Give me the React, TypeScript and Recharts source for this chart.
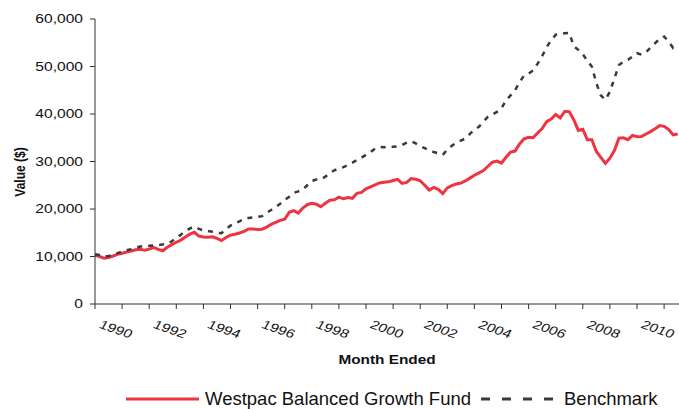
import React from 'react';
import { Label, Line, LineChart, XAxis, YAxis } from 'recharts';

// month offsets from the first observation (every second month)
const MONTHS = Array.from({ length: 130 }, (_, i) => i * 2);

const FUND = [
    10250, 10000, 9650, 9800, 10100, 10450, 10700, 10950, 11150, 11400,
    11500, 11300, 11550, 11900, 11500, 11200, 11950, 12500, 13000, 13450,
    14100, 14700, 15100, 14300, 14100, 14050, 14150, 13800, 13340, 14000,
    14500, 14700, 14950, 15300, 15800, 15800, 15700, 15750, 16200, 16750,
    17200, 17600, 17850, 19300, 19650, 19150, 20200, 20900, 21200, 21000,
    20500, 21200, 21850, 21950, 22500, 22150, 22400, 22250, 23300, 23500,
    24250, 24650, 25100, 25480, 25650, 25720, 26000, 26250, 25400, 25600,
    26400, 26250, 25950, 25000, 24000, 24550, 24150, 23250, 24450, 24900,
    25280, 25450, 25900, 26500, 27100, 27600, 28100, 29000, 29850, 30100,
    29650, 30900, 32000, 32200, 33700, 34800, 35100, 35000, 36000, 36950,
    38400, 38950, 39900, 39200, 40530, 40500, 38800, 36550, 36800, 34600,
    34600, 32100, 30850, 29600, 30700, 32300, 34900, 35000, 34600, 35500,
    35200, 35250, 35800, 36300, 36900, 37550, 37400, 36750, 35600, 35800,
];

const BENCHMARK = [
    10500, 10300, 10000, 10100, 10300, 10700, 11050, 11300, 11550, 11850,
    12100, 12150, 12250, 12300, 12400, 12550, 12650, 13200, 13900, 14600,
    15300, 15900, 16300, 15800, 15500, 15350, 15200, 15000, 14900, 15800,
    16500, 17000, 17400, 17900, 18100, 18250, 18350, 18500, 19200, 19800,
    20400, 21100, 21900, 22600, 23400, 23700, 24100, 25000, 25900, 26200,
    26250, 26800, 27550, 28150, 28500, 28800, 29250, 29750, 30300, 30800,
    31400, 32000, 32700, 33050, 33000, 33000, 33100, 33200, 33500, 33950,
    34250, 33800, 33250, 32800, 32350, 32000, 31700, 31400, 32500, 33300,
    33950, 34400, 34850, 35800, 36700, 37300, 38400, 39400, 39900, 40450,
    41200, 42900, 43900, 45000, 46700, 48100, 48500, 49200, 50600, 52200,
    54100, 55500, 56700, 56850, 57000, 57100, 54300, 53500, 52600, 51200,
    50000, 46500, 43900, 43000, 44700, 47500, 50300, 51000, 51400, 52100,
    52800, 52500, 53000, 54000, 54900, 55800, 56300, 55300, 53900, 54500,
];

const YEAR_TICKS = [0, 12, 24, 36, 48, 60, 72, 84, 96, 108, 120, 132, 144, 156, 168, 180, 192, 204, 216, 228, 240, 252];
const VALUE_TICKS = [0, 10000, 20000, 30000, 40000, 50000, 60000];
const FIRST_YEAR = 1990;

const FONT = '"Liberation Sans", Arial, sans-serif';
const RED = '#ee3440';
const DARK = '#3a3a3a';
const TEXT = '#111';
const CHART_MARGIN = { top: 19, right: 0, left: 0, bottom: 0 };

const data = MONTHS.map((m, i) => ({ m, fund: FUND[i], benchmark: BENCHMARK[i] }));

// eslint-disable-next-line @typescript-eslint/no-explicit-any
const YearTick = ({ x, y, payload }: any) => {
    const k = Math.round(payload.value / 12);
    if (k % 2 !== 0) return <g />;
    return (
        <text
            transform={`translate(${x + 21},${y + 18}) scale(1.3,1) rotate(24)`}
            textAnchor="middle"
            dominantBaseline="central"
            fontSize={12}
            fontFamily={FONT}
            fill={TEXT}
        >
            {FIRST_YEAR + k}
        </text>
    );
};

// eslint-disable-next-line @typescript-eslint/no-explicit-any
const ValueTick = ({ x, y, payload }: any) => (
    <text
        transform={`translate(${x},${y}) scale(1.3,1)`}
        textAnchor="end"
        dy="0.35em"
        fontSize={12}
        fontFamily={FONT}
        fill={TEXT}
    >
        {payload.value.toLocaleString('en-US')}
    </text>
);

// eslint-disable-next-line @typescript-eslint/no-explicit-any
const MonthTitle = ({ viewBox }: any) => {
    const vb = viewBox || { x: 95, y: 304, width: 584 };
    return (
        <text
            transform={`translate(${vb.x + vb.width / 2},${vb.y + 56}) scale(1.28,1)`}
            textAnchor="middle"
            dominantBaseline="central"
            fontSize={12}
            fontWeight="bold"
            fontFamily={FONT}
            fill={TEXT}
        >
            Month Ended
        </text>
    );
};

const ValueTitle = () => (
    <text
        transform="translate(20,172) scale(1.25,1) rotate(-90)"
        textAnchor="middle"
        dominantBaseline="central"
        fontSize={12}
        fontWeight="bold"
        fontFamily={FONT}
        fill={TEXT}
    >
        Value ($)
    </text>
);

const App: React.FC = () => (
    <div style={{ position: 'absolute', left: 0, top: 0, width: 679, height: 409, background: '#fff', fontFamily: FONT }}>
        <LineChart width={679} height={409} data={data} margin={CHART_MARGIN}>
            <XAxis
                type="number"
                dataKey="m"
                domain={[0, 258.6]}
                ticks={YEAR_TICKS}
                tick={YearTick}
                tickSize={5}
                height={105}
                stroke="#333"
                interval={0}
                allowDataOverflow
            >
                <Label content={MonthTitle} />
            </XAxis>
            <YAxis
                domain={[0, 60000]}
                ticks={VALUE_TICKS}
                tick={ValueTick}
                tickSize={5}
                tickMargin={7}
                width={95}
                stroke="#333"
                interval={0}
            >
                <Label content={ValueTitle} />
            </YAxis>
            <Line
                type="linear"
                dataKey="fund"
                stroke={RED}
                strokeWidth={3}
                dot={false}
                isAnimationActive={false}
            />
            <Line
                type="linear"
                dataKey="benchmark"
                stroke={DARK}
                strokeWidth={2.5}
                strokeDasharray="5 6"
                dot={false}
                isAnimationActive={false}
            />
        </LineChart>
        <svg width={679} height={23} style={{ position: 'absolute', left: 0, top: 386 }}>
            <line x1={126} x2={199} y1={13} y2={13} stroke={RED} strokeWidth={3} />
            <text x={205} y={13} dy="0.35em" fontSize={18.5} fontFamily={FONT} fill={TEXT}>
                Westpac Balanced Growth Fund
            </text>
            <line x1={481} x2={553} y1={13} y2={13} stroke={DARK} strokeWidth={3} strokeDasharray="9 12" />
            <text x={564} y={13} dy="0.35em" fontSize={18.5} fontFamily={FONT} fill={TEXT}>
                Benchmark
            </text>
        </svg>
    </div>
);

export default App;
